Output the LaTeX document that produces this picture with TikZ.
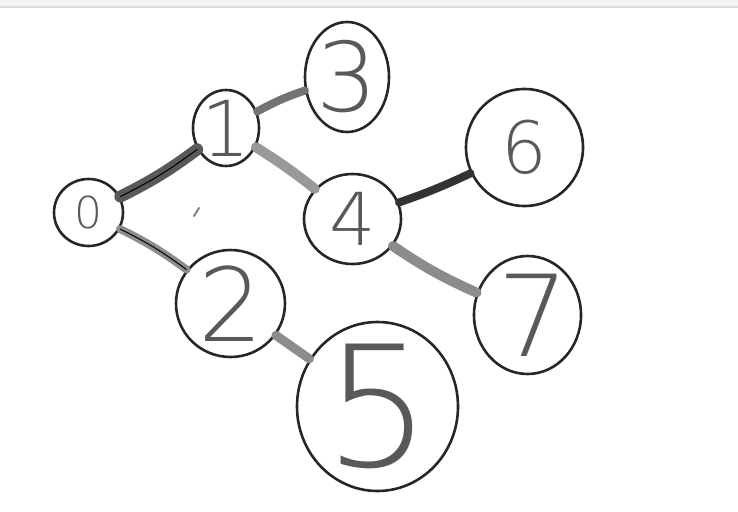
\documentclass[tikz,border=0pt]{standalone}
\usepackage{fontspec}
\newfontfamily\handfont{DejaVu Sans}[UprightFont={* ExtraLight}]
\usetikzlibrary{shapes.geometric}
\usetikzlibrary{positioning}
\definecolor{barfill}{HTML}{F2F3F5}
\definecolor{barline}{HTML}{DCDCE0}
\newcommand{\digitsize}[1]{\handfont\fontsize{#1}{#1}\selectfont}

\begin{document}
\begin{tikzpicture}
  [x=1pt, y=-1pt,
   ball/.style = {ellipse, draw=black!85, line width=2.6pt, inner sep=0pt},
   digit/.style = {text=black!65, inner sep=0pt},
   branch/.style = {line width=9pt, line cap=round}]
  \useasboundingbox (0,0) rectangle (738,511);
  \fill[barfill] (0,0) rectangle (738,6);
  \fill[barline] (0,6) rectangle (738,8);

  \node[ball, minimum width=69, minimum height=67,
        label={[digit, font=\digitsize{44}]center:0}] (n0) at (88.5,212.5) {};
  \node[ball, minimum width=66, minimum height=76,
        label={[digit, font=\digitsize{77}]center:1}] (n1) at (226,128) {};
  \node[ball, minimum width=84, minimum height=110,
        label={[digit, font=\digitsize{96}]center:3}] (n3) at (347,77) {};
  \node[ball, minimum width=97, minimum height=90,
        label={[digit, font=\digitsize{73}]center:4}] (n4) at (352.5,219) {};
  \node[ball, minimum width=117, minimum height=117,
        label={[digit, font=\digitsize{72}]center:6}] (n6) at (524.5,147.5) {};
  \node[ball, minimum width=107, minimum height=118,
        label={[digit, font=\digitsize{113}, xshift=6]center:7}] (n7) at (527.5,315) {};
  \node[ball, minimum width=109, minimum height=107,
        label={[digit, font=\digitsize{102}]center:2}] (n2) at (230.5,303.5) {};
  \node[ball, minimum width=161, minimum height=169,
        label={[digit, font=\digitsize{168}]center:5}] (n5) at (377.5,406.5) {};

  % stray pen mark
  \coordinate (m1) at (194,216);
  \coordinate (m2) at (199,208);
  \draw[gray, line width=2pt, line cap=round] (m1) -- (m2);

  \draw[branch, black!65, line width=12pt] (n0) to[bend right=5] (n1);
  \draw[black, line width=1pt] (n0) to[bend right=5] (n1);
  \draw[branch, black!45, line width=8pt] (n0) to[bend left=5] (n2);
  \draw[black, line width=1pt] (n0) to[bend left=5] (n2);
  \draw[branch, black!55, line width=8pt] (n1) to[bend left=5] (n3);
  \draw[branch, black!40, line width=10pt] (n1) to[bend left=3] (n4);
  \draw[branch, black!80, line width=8pt] (n4) to[bend right=3] (n6);
  \draw[branch, black!45, line width=10pt] (n4) to[bend right=5] (n7);
  \draw[branch, black!45] (n2) to (n5);
\end{tikzpicture}
\end{document}
